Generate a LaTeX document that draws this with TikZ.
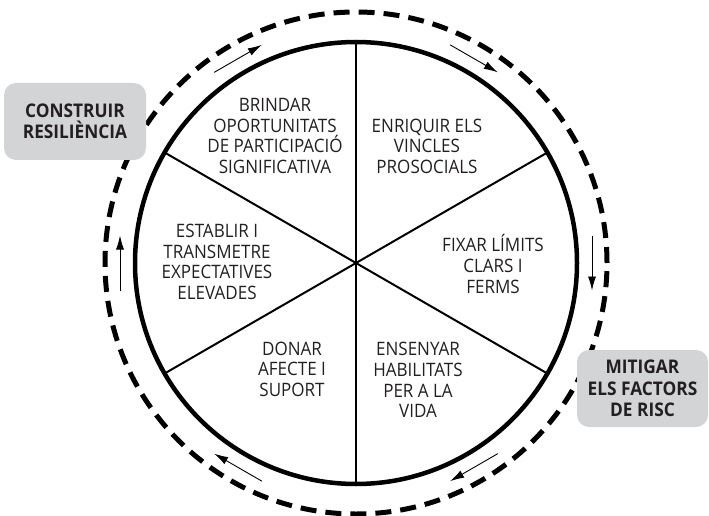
\documentclass[tikz,border=0pt]{standalone}
\usepackage{fontspec}
\setmainfont{Open Sans}[FakeStretch=0.92]
\usetikzlibrary{arrows.meta,calc}
\definecolor{boxgrey}{RGB}{211,212,214}
\definecolor{ink}{RGB}{35,31,32}
\tikzset{
  segtext/.style={align=center,font=\fontsize{18.5}{20.6}\selectfont,text=ink,inner sep=0pt},
  tagbox/.style={fill=boxgrey,rounded corners=12pt,minimum height=77pt,align=center,
    font=\fontsize{18.8}{21.3}\selectfont\bfseries,text=ink,inner sep=0pt},
  rim/.style={line width=4.5pt},
  spoke/.style={line width=2pt},
  outerdash/.style={line width=5pt,dash pattern=on 16pt off 9.05pt},
  flow/.style={line width=0.9pt,-{Latex[length=14pt,width=8pt]}}
}
\begin{document}
\begin{tikzpicture}[x=1pt,y=1pt]
\useasboundingbox (0,0) rectangle (709,515);
\coordinate (C) at (356,252);
% outer dashed circle
\draw[outerdash] (C) circle (251);
% flow arrows
\foreach \a/\n in {0/r,60/tr,120/tl,180/l,240/bl,300/br}{
  \coordinate (P\n) at ($(C)+(\a:236)$);
  \coordinate (S\n) at ($(P\n)+(\a+90:27.5)$);
  \coordinate (E\n) at ($(P\n)+(\a-90:27.5)$);
  \draw[flow] (S\n) -- (E\n);
}
% inner circle and spokes
\draw[rim] (C) circle (221);
\foreach \a in {30,90,150,210,270,330}{
  \coordinate (K\a) at ($(C)+(\a:221)$);
  \draw[spoke] (C) -- (K\a);
}
% segment texts
\node[segtext] (t1) at (275,379) {BRINDAR\\OPORTUNITATS\\DE PARTICIPACIÓ\\SIGNIFICATIVA};
\node[segtext] (t2) at (427,369) {ENRIQUIR ELS\\VINCLES\\PROSOCIALS};
\node[segtext] (t3) at (493,251) {FIXAR LÍMITS\\CLARS I\\FERMS};
\node[segtext] (t4) at (217,253) {ESTABLIR I\\TRANSMETRE\\EXPECTATIVES\\ELEVADES};
\node[segtext] (t5) at (292,146) {DONAR\\AFECTE I\\SUPORT};
\node[segtext] (t6) at (418,135) {ENSENYAR\\HABILITATS\\PER A LA\\VIDA};
% tag boxes
\node[tagbox,minimum width=142pt] (b1) at (75,393.5) {CONSTRUIR\\RESILIÈNCIA};
\node[tagbox,minimum width=131pt] (b2) at (642.5,126.5) {MITIGAR\\ELS FACTORS\\DE RISC};
\end{tikzpicture}
\end{document}
